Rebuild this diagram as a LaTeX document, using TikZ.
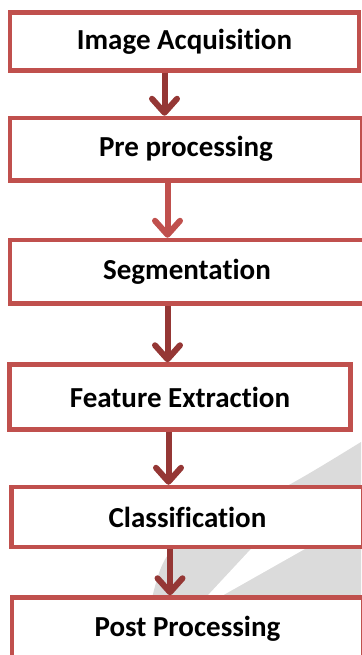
\documentclass[tikz,border=0pt]{standalone}
\usepackage{fontspec}
\setmainfont{Carlito}[Ligatures={NoCommon,NoRare}]
\usetikzlibrary{arrows.meta}
\definecolor{boxred}{RGB}{192,80,77}
\definecolor{arrdark}{RGB}{149,55,53}
\definecolor{wmgrey}{RGB}{219,219,219}
\tikzset{
  stepbox/.style={draw=boxred, line width=4.5pt, fill=white, inner sep=0pt,
    font=\fontsize{29}{34}\selectfont\bfseries},
  flow/.style={line width=6pt, arrdark,
    -{Straight Barb[length=14pt, width=25pt, line cap=round, line join=round]}},
  flowlight/.style={flow, boxred}
}
\begin{document}
\begin{tikzpicture}[x=1pt, y=-1pt]
\useasboundingbox (0,0) rectangle (361,655);
% watermark
\fill[wmgrey] plot[smooth] coordinates {(361,442) (320,467) (287,486) (230,516) (172,550) (153,594) (145,655)} -- (361,655) -- cycle;
\fill[white] (203.5,600) -- (214.6,600) -- (313.6,544) -- (255.6,544) -- cycle;
% boxes
\node[stepbox, minimum width=349pt, minimum height=58pt] (b1) at (184.5,41.5) {Image Acquisition};
\node[stepbox, minimum width=352pt, minimum height=62.5pt] (b2) at (186,149.25) {Pre processing};
\node[stepbox, minimum width=354pt, minimum height=63.5pt] (b3) at (187,271.75) {Segmentation};
\node[stepbox, minimum width=341pt, minimum height=65pt] (b4) at (180,397) {Feature Extraction};
\node[stepbox, minimum width=352pt, minimum height=60pt] (b5) at (187.5,517) {Classification};
\node[stepbox, minimum width=351pt, minimum height=62pt] (b6) at (187.5,628.5) {Post Processing};
% arrow x positions
\coordinate (x1) at (164.5,0);
\coordinate (x2) at (167.5,0);
\coordinate (x3) at (167.5,0);
\coordinate (x4) at (168.5,0);
\coordinate (x5) at (170,0);
\draw[flow] (b1.south -| x1) -- (b2.north -| x1);
\draw[flowlight] (b2.south -| x2) -- (b3.north -| x2);
\draw[flow] (b3.south -| x3) -- (b4.north -| x3);
\draw[flow] (b4.south -| x4) -- (b5.north -| x4);
\draw[flow] (b5.south -| x5) -- (b6.north -| x5);
\end{tikzpicture}
\end{document}
